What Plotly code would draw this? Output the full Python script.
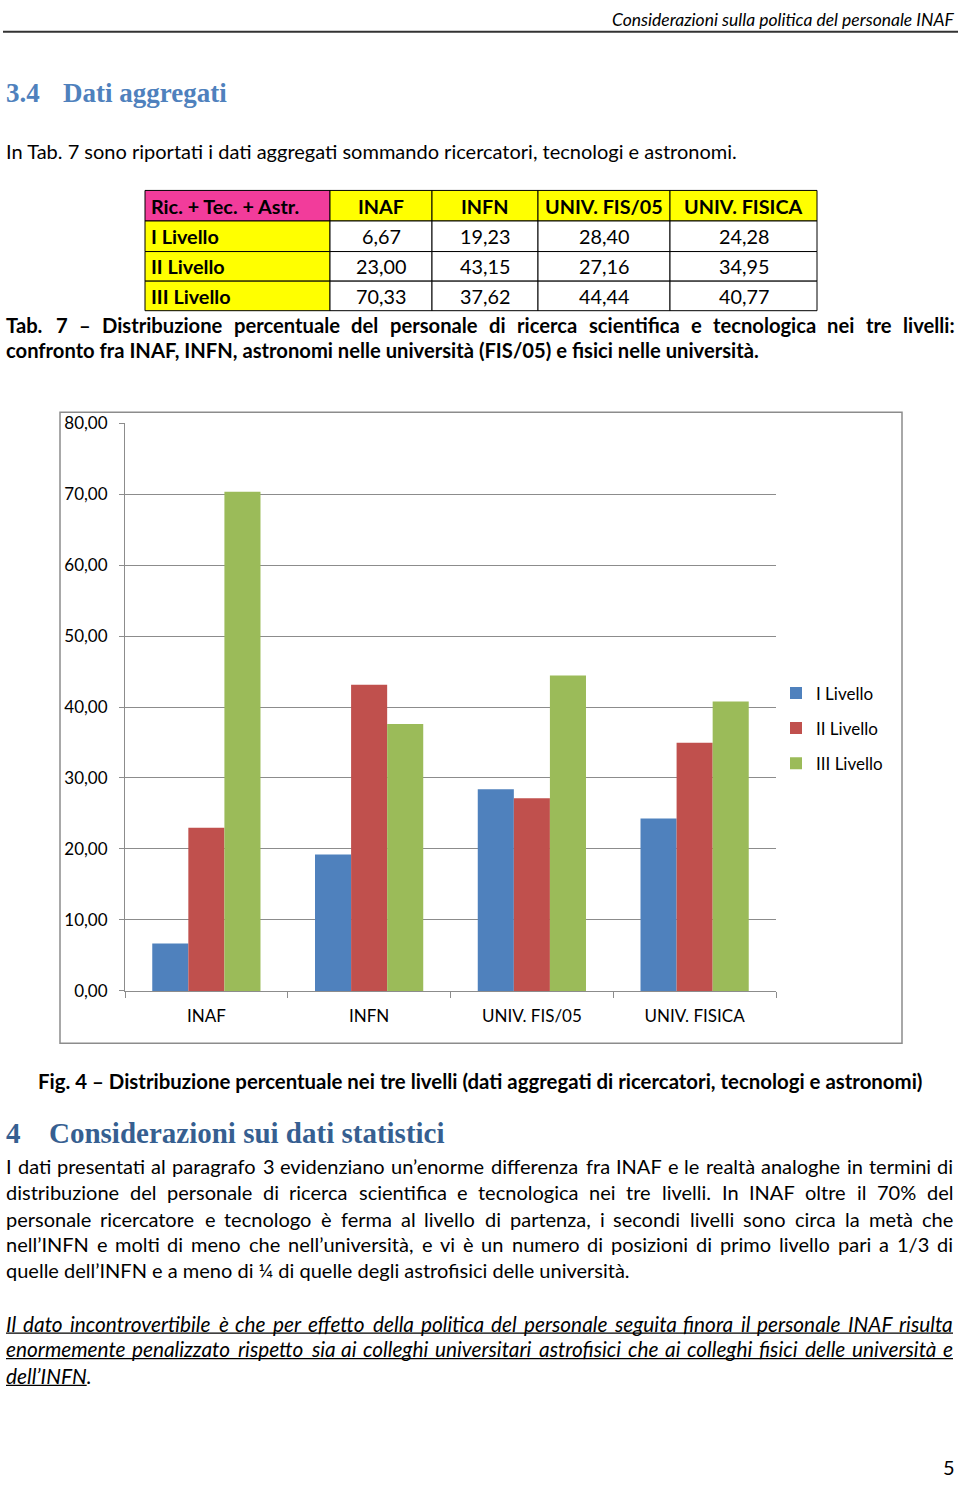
import glob
import os
import struct

import plotly.graph_objects as go

W, H = 960, 1485

categories = ["INAF", "INFN", "UNIV. FIS/05", "UNIV. FISICA"]
levels = ["I Livello", "II Livello", "III Livello"]
liv1 = [6.67, 19.23, 28.40, 24.28]
liv2 = [23.00, 43.15, 27.16, 34.95]
liv3 = [70.33, 37.62, 44.44, 40.77]
series = [liv1, liv2, liv3]
colors = ["#4F81BD", "#C0504D", "#9BBB59"]
yticks = [0, 10, 20, 30, 40, 50, 60, 70, 80]

BODY = "Lato"
SERIF = "Liberation Serif"


# ---------- font metrics (for justified text lines) ----------
def parse_font(path):
    data = open(path, "rb").read()
    num = struct.unpack(">H", data[4:6])[0]
    tables = {}
    for i in range(num):
        tag, _cs, off, ln = struct.unpack(">4sIII", data[12 + 16 * i:28 + 16 * i])
        tables[tag.decode("latin1")] = off
    upm = struct.unpack(">H", data[tables["head"] + 18:tables["head"] + 20])[0]
    nhm = struct.unpack(">H", data[tables["hhea"] + 34:tables["hhea"] + 36])[0]
    ho = tables["hmtx"]
    adv = [struct.unpack(">H", data[ho + 4 * i:ho + 4 * i + 2])[0] for i in range(nhm)]
    co = tables["cmap"]
    n = struct.unpack(">H", data[co + 2:co + 4])[0]
    sub = None
    for i in range(n):
        pid, eid, off = struct.unpack(">HHI", data[co + 4 + 8 * i:co + 12 + 8 * i])
        fmt = struct.unpack(">H", data[co + off:co + off + 2])[0]
        if fmt == 4 and pid in (0, 3):
            sub = co + off
            break
    if sub is None:
        return None
    segx2 = struct.unpack(">H", data[sub + 6:sub + 8])[0]
    seg = segx2 // 2
    ends = struct.unpack(">%dH" % seg, data[sub + 14:sub + 14 + segx2])
    starts = struct.unpack(">%dH" % seg, data[sub + 16 + segx2:sub + 16 + 2 * segx2])
    deltas = struct.unpack(">%dh" % seg, data[sub + 16 + 2 * segx2:sub + 16 + 3 * segx2])
    rpos = sub + 16 + 3 * segx2
    roffs = struct.unpack(">%dH" % seg, data[rpos:rpos + segx2])

    def gid(ch):
        c = ord(ch)
        for i in range(seg):
            if ends[i] >= c:
                if starts[i] > c:
                    return 0
                if roffs[i] == 0:
                    return (c + deltas[i]) & 0xFFFF
                addr = rpos + 2 * i + roffs[i] + 2 * (c - starts[i])
                g = struct.unpack(">H", data[addr:addr + 2])[0]
                return (g + deltas[i]) & 0xFFFF if g else 0
        return 0

    def width(s, size):
        tot = 0
        for ch in s:
            g = gid(ch)
            tot += adv[g] if g < nhm else adv[-1]
        return tot * size / upm

    return width


def find_font(names):
    roots = ["/usr/share/fonts", "/usr/local/share/fonts", os.path.expanduser("~/.fonts"),
             os.path.expanduser("~/.local/share/fonts")]
    for name in names:
        for r in roots:
            hits = glob.glob(os.path.join(r, "**", name), recursive=True)
            if hits:
                try:
                    return parse_font(hits[0])
                except Exception:
                    pass
    return None


FONTW = {
    "r": find_font(["Lato-Regular.ttf", "Lato-Regular.otf"]),
    "b": find_font(["Lato-Bold.ttf", "Lato-Bold.otf"]),
    "i": find_font(["Lato-Italic.ttf", "Lato-Italic.otf"]),
}


def X(px):
    return px / W


def Y(py):
    return 1 - py / H


fig = go.Figure()
for name, vals, col in zip(levels, series, colors):
    fig.add_trace(go.Bar(x=categories, y=vals, name=name, marker=dict(color=col, line=dict(width=0)),
                         legendgroup=name))

annotations = []
shapes = []


def text(x, y, s, size=20, anchor="left", color="#000", family=BODY):
    annotations.append(dict(x=X(x), y=Y(y), xref="paper", yref="paper", text=s, showarrow=False,
                            xanchor=anchor, yanchor="middle", borderpad=0, borderwidth=0,
                            font=dict(size=size, color=color, family=family)))


def justified(y, line, size, style, L=6, R=953):
    tag = {"r": ("", ""), "b": ("<b>", "</b>"), "i": ("<i>", "</i>")}[style]
    fw = FONTW[style]
    if fw is None:
        text(L, y, tag[0] + line + tag[1], size)
        return
    words = line.split(" ")
    widths = [fw(w, size) for w in words]
    gap = (R - L - sum(widths)) / (len(words) - 1)
    x = L
    for i, (w, wd) in enumerate(zip(words, widths)):
        if i == len(words) - 1:
            text(R, y, tag[0] + w + tag[1], size, anchor="right")
        else:
            text(x, y, tag[0] + w + tag[1], size)
        x += wd + gap


def hline(x0, x1, y, color="#000", width=1.3):
    shapes.append(dict(type="line", xref="paper", yref="paper", x0=X(x0), x1=X(x1), y0=Y(y), y1=Y(y),
                       line=dict(color=color, width=width)))


# header
text(954, 9, "<i>Considerazioni sulla politica del personale INAF</i>", size=17.5, anchor="right")
hline(3, 958, 21, color="#333", width=2)

# heading 3.4
text(6, 83, "<b>3.4</b>", size=27, color="#4F81BD", family=SERIF)
text(63, 83, "<b>Dati aggregati</b>", size=27, color="#4F81BD", family=SERIF)

text(6, 142, "In Tab. 7 sono riportati i dati aggregati sommando ricercatori, tecnologi e astronomi.")

# table
TS = 19.8
col_edges = [145, 330, 432, 538, 670, 817]
row_edges = [182, 213, 244, 274, 304]
header = ["Ric. + Tec. + Astr."] + categories
for c in range(5):
    fillc = "#F23C9B" if c == 0 else "#FFFF00"
    shapes.append(dict(type="rect", xref="paper", yref="paper", x0=X(col_edges[c]), x1=X(col_edges[c + 1]),
                       y0=Y(row_edges[0]), y1=Y(row_edges[1]), fillcolor=fillc, line=dict(color="#000", width=1),
                       layer="below"))
for r in range(3):
    shapes.append(dict(type="rect", xref="paper", yref="paper", x0=X(col_edges[0]), x1=X(col_edges[1]),
                       y0=Y(row_edges[r + 1]), y1=Y(row_edges[r + 2]), fillcolor="#FFFF00",
                       line=dict(color="#000", width=1), layer="below"))
    for c in range(1, 5):
        shapes.append(dict(type="rect", xref="paper", yref="paper", x0=X(col_edges[c]), x1=X(col_edges[c + 1]),
                           y0=Y(row_edges[r + 1]), y1=Y(row_edges[r + 2]), fillcolor="#FFFFFF",
                           line=dict(color="#000", width=1), layer="below"))
for c, h in enumerate(header):
    yc = (row_edges[0] + row_edges[1]) / 2
    if c == 0:
        text(col_edges[0] + 6, yc, "<b>" + h + "</b>", size=TS)
    else:
        text((col_edges[c] + col_edges[c + 1]) / 2, yc, "<b>" + h + "</b>", size=TS, anchor="center")
for r, (lv, vals) in enumerate(zip(levels, series)):
    yc = (row_edges[r + 1] + row_edges[r + 2]) / 2
    text(col_edges[0] + 6, yc, "<b>" + lv + "</b>", size=TS)
    for c, v in enumerate(vals):
        text((col_edges[c + 1] + col_edges[c + 2]) / 2, yc, f"{v:.2f}".replace(".", ","), size=TS,
             anchor="center")

justified(318, "Tab. 7 – Distribuzione percentuale del personale di ricerca scientifica e tecnologica nei tre livelli:",
          20.2, "b", R=955)
text(6, 344, "<b>confronto fra INAF, INFN, astronomi nelle università (FIS/05) e fisici nelle università.</b>", size=20.2)

# chart frame
shapes.append(dict(type="rect", xref="paper", yref="paper", x0=X(60), x1=X(902), y0=Y(407), y1=Y(1047),
                   line=dict(color="#8C8C8C", width=1.5), layer="below"))

text(480, 1085, "<b>Fig. 4 – Distribuzione percentuale nei tre livelli (dati aggregati di ricercatori, tecnologi e astronomi)</b>",
     size=20.4, anchor="center")

text(6, 1138, "<b>4</b>", size=29, color="#365F91", family=SERIF)
text(49, 1138, "<b>Considerazioni sui dati statistici</b>", size=29, color="#365F91", family=SERIF)

body = [
    "I dati presentati al paragrafo 3 evidenziano un’enorme differenza fra INAF e le realtà analoghe in termini di",
    "distribuzione del personale di ricerca scientifica e tecnologica nei tre livelli. In INAF oltre il 70% del",
    "personale ricercatore e tecnologo è ferma al livello di partenza, i secondi livelli sono circa la metà che",
    "nell’INFN e molti di meno che nell’università, e vi è un numero di posizioni di primo livello pari a 1/3 di",
    "quelle dell’INFN e a meno di ¼ di quelle degli astrofisici delle università.",
]
body_y = [1172, 1198, 1225, 1251, 1277]
for i, line in enumerate(body):
    if i < 4:
        justified(body_y[i], line, 20, "r")
    else:
        text(6, body_y[i], line)

italic = [
    "Il dato incontrovertibile è che per effetto della politica del personale seguita finora il personale INAF risulta",
    "enormemente penalizzato rispetto sia ai colleghi universitari astrofisici che ai colleghi fisici delle università e",
]
italic_y = [1331, 1357]
IS = 20.8
for i, line in enumerate(italic):
    if FONTW["i"] is not None:
        justified(italic_y[i], line, IS, "i")
        hline(6, 953, italic_y[i] + 10)
    else:
        text(6, italic_y[i], "<i><u>" + line + "</u></i>", size=IS)
last_word = "dell’INFN"
if FONTW["i"] is not None:
    text(6, 1384, "<i>" + last_word + ".</i>", size=IS)
    hline(6, 6 + FONTW["i"](last_word, IS), 1394)
else:
    text(6, 1384, "<i><u>" + last_word + "</u>.</i>", size=IS)

text(949, 1477, "5", size=20, anchor="center")

fig.update_layout(
    width=W, height=H,
    margin=dict(l=0, r=0, t=0, b=0),
    paper_bgcolor="white", plot_bgcolor="white",
    separators=",.",
    barmode="group", bargap=0.335, bargroupgap=0,
    font=dict(family=BODY, color="#000", size=17),
    showlegend=True,
    legend=dict(x=X(776), y=Y(674), xanchor="left", yanchor="top", font=dict(size=17, family=BODY),
                tracegroupgap=10, bgcolor="rgba(0,0,0,0)", itemclick=False),
    xaxis=dict(domain=[X(125), X(776)], showline=True, linecolor="#8C8C8C", linewidth=1,
               ticks="outside", tickson="boundaries", ticklen=6, tickcolor="#8C8C8C",
               showgrid=False, tickfont=dict(size=17, family=BODY), ticklabelstandoff=10,
               range=[-0.5, 3.5]),
    yaxis=dict(domain=[Y(994), Y(418)], range=[0, 80], tickvals=yticks, tickformat=".2f",
               showline=True, linecolor="#8C8C8C", linewidth=1, ticks="outside", ticklen=5,
               tickcolor="#8C8C8C", showgrid=True, gridcolor="#8C8C8C", gridwidth=1,
               zeroline=False, tickfont=dict(size=17, family=BODY), ticklabelstandoff=8),
    annotations=annotations,
    shapes=shapes,
)

fig.write_html("out.html", config={"displayModeBar": False},
               post_script="document.body.style.margin='0';document.documentElement.style.overflow='hidden';")
